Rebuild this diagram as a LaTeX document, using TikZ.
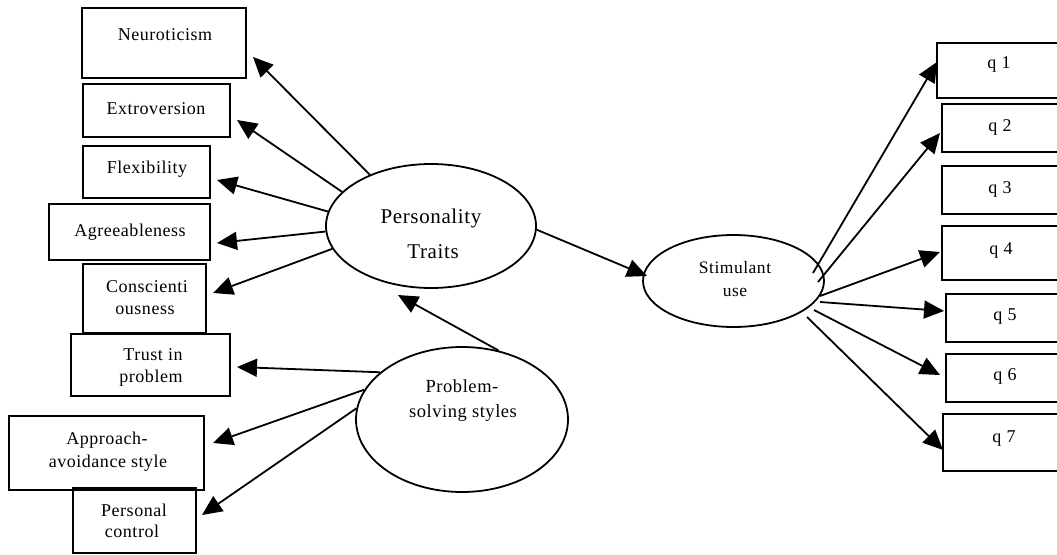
\documentclass[tikz,border=0pt]{standalone}
\usepackage{fontspec}
\setmainfont{Liberation Serif}
\newfontfamily\lblfont[LetterSpace=3]{Liberation Serif}
\usetikzlibrary{arrows.meta,shapes.geometric}
\begin{document}
\begin{tikzpicture}[x=1pt,y=-1pt,
  box/.style={draw, line width=1.7pt, inner sep=0pt, rectangle},
  oval/.style={draw, line width=1.8pt, ellipse, inner sep=0pt},
  lbl/.style={font=\lblfont\fontsize{18}{21}\selectfont, inner sep=0pt, anchor=base},
  biglbl/.style={font=\lblfont\fontsize{21}{25}\selectfont, inner sep=0pt, anchor=base},
  midlbl/.style={font=\lblfont\fontsize{18.5}{22}\selectfont, inner sep=0pt, anchor=base},
  smllbl/.style={font=\lblfont\fontsize{17.5}{20}\selectfont, inner sep=0pt, anchor=base},
  arr/.style={line width=1.8pt, -{Triangle[length=20pt,width=18pt]}}]
\clip (0,0) rectangle (1057,554);
\fill[white] (0,0) rectangle (1057,554);

% left boxes
\node[box, minimum width=164pt, minimum height=70pt] (neu) at (164,43) {};
\node[box, minimum width=147pt, minimum height=53pt] (ext) at (156.5,110.5) {};
\node[box, minimum width=127pt, minimum height=52pt] (flx) at (146.5,172) {};
\node[box, minimum width=161pt, minimum height=56pt] (agr) at (129.5,232) {};
\node[box, minimum width=123pt, minimum height=69pt] (con) at (144.5,298.5) {};
\node[box, minimum width=159pt, minimum height=62pt] (tru) at (150.5,365) {};
\node[box, minimum width=195pt, minimum height=74pt] (app) at (106.5,453) {};
\node[box, minimum width=123pt, minimum height=65pt] (per) at (134.5,520.5) {};

% right boxes
\node[box, minimum width=133pt, minimum height=55pt] (q1) at (1003.5,70.5) {};
\node[box, minimum width=128pt, minimum height=48pt] (q2) at (1006,128) {};
\node[box, minimum width=128pt, minimum height=48pt] (q3) at (1006,190) {};
\node[box, minimum width=128pt, minimum height=54pt] (q4) at (1006,253) {};
\node[box, minimum width=124pt, minimum height=48pt] (q5) at (1008,318) {};
\node[box, minimum width=124pt, minimum height=48pt] (q6) at (1008,378) {};
\node[box, minimum width=127pt, minimum height=57pt] (q7) at (1006.5,442.5) {};

% ellipses
\node[oval, minimum width=210pt, minimum height=124pt] (pt) at (431,226) {};
\node[oval, minimum width=212pt, minimum height=145pt] (ps) at (462,419.5) {};
\node[oval, minimum width=181pt, minimum height=92pt] (st) at (733.5,281) {};

% labels
\node[lbl] (neuL) at (165,40) {Neuroticism};
\node[lbl] (extL) at (156,114) {Extroversion};
\node[lbl] (flxL) at (147,173) {Flexibility};
\node[lbl] (agrL) at (130,236) {Agreeableness};
\node[lbl] (conL1) at (147,292) {Conscienti};
\node[lbl] (conL2) at (145,314) {ousness};
\node[lbl] (truL1) at (153,360) {Trust in};
\node[lbl] (truL2) at (151,382) {problem};
\node[lbl] (appL1) at (107,444) {Approach-};
\node[lbl] (appL2) at (108,467) {avoidance style};
\node[lbl] (perL1) at (134,516) {Personal};
\node[lbl] (perL2) at (132,537) {control};
\node[biglbl] (ptL1) at (431,223) {Personality};
\node[biglbl] (ptL2) at (433,258) {Traits};
\node[midlbl] (psL1) at (462,392) {Problem-};
\node[midlbl] (psL2) at (463,417) {solving styles};
\node[smllbl] (stL1) at (735,273) {Stimulant};
\node[smllbl] (stL2) at (735,296) {use};
\node[lbl] (q1L) at (999,68) {q 1};
\node[lbl] (q2L) at (1000,131) {q 2};
\node[lbl] (q3L) at (1000,193) {q 3};
\node[lbl] (q4L) at (1001,254) {q 4};
\node[lbl] (q5L) at (1005,320) {q 5};
\node[lbl] (q6L) at (1005,380) {q 6};
\node[lbl] (q7L) at (1004,442) {q 7};

% arrow tips (free ends)
\coordinate (neuT) at (253,57);
\coordinate (extT) at (237,120);
\coordinate (flxT) at (217,180);
\coordinate (agrT) at (217,243);
\coordinate (conT) at (213,293);
\coordinate (truT) at (237,367);
\coordinate (appT) at (213,443);
\coordinate (perT) at (202,515);
\coordinate (ptT) at (398,295);
\coordinate (stT) at (647,276);
\coordinate (q1T) at (937,62);
\coordinate (q2T) at (940,133);
\coordinate (q4T) at (940,252);
\coordinate (q5T) at (944,311);
\coordinate (q6T) at (940,375);
\coordinate (q7T) at (943,450);
% line starts near stimulant ellipse
\coordinate (s1) at (813,273);
\coordinate (s2) at (818,282);
\coordinate (s4) at (820,296);
\coordinate (s5) at (820,302);
\coordinate (s6) at (814,310);
\coordinate (s7) at (807,317);

% connectors
\draw[arr] (pt.140.1) -- (neuT);
\draw[arr] (pt.159.1) -- (extT);
\draw[arr] (pt.172.9) -- (flxT);
\draw[arr] (pt.183.3) -- (agrT);
\draw[arr] (pt.193.2) -- (conT);
\draw[arr] (pt.358.4) -- (stT);
\draw[arr] (ps.150.4) -- (truT);
\draw[arr] (ps.163.6) -- (appT);
\draw[arr] (ps.174.3) -- (perT);
\draw[arr] (ps.62) -- (ptT);
\draw[arr] (s1) -- (q1T);
\draw[arr] (s2) -- (q2T);
\draw[arr] (s4) -- (q4T);
\draw[arr] (s5) -- (q5T);
\draw[arr] (s6) -- (q6T);
\draw[arr] (s7) -- (q7T);
\end{tikzpicture}
\end{document}
